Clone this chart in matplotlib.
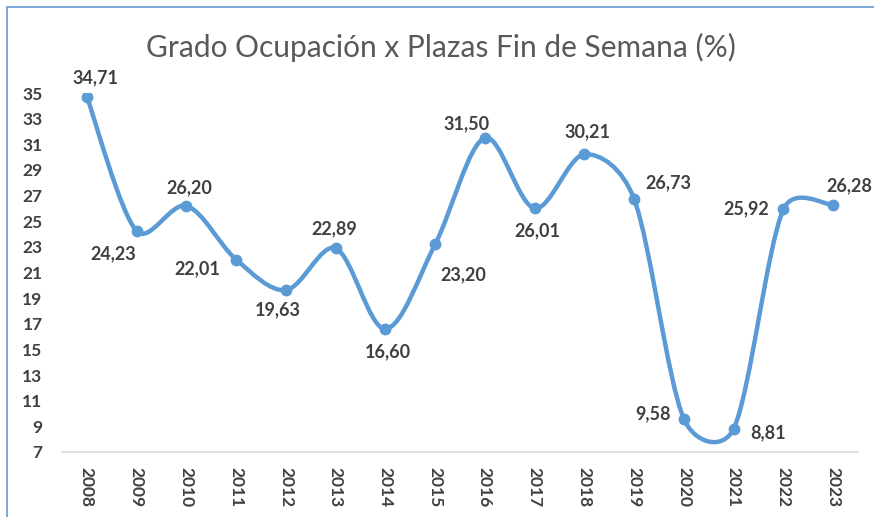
import numpy as np
import matplotlib
matplotlib.use('Agg')
import matplotlib.pyplot as plt
from matplotlib.path import Path
from matplotlib.patches import PathPatch, Rectangle

plt.rcParams['font.family'] = ['Lato', 'DejaVu Sans']

years = ['2008', '2009', '2010', '2011', '2012', '2013', '2014', '2015',
         '2016', '2017', '2018', '2019', '2020', '2021', '2022', '2023']
ocupacion = [34.71, 24.23, 26.20, 22.01, 19.63, 22.89, 16.60, 23.20,
             31.50, 26.01, 30.21, 26.73, 9.58, 8.81, 25.92, 26.28]
yticks = list(range(7, 36, 2))

# label offsets (points) around each point, like excel put them
offsets = [(6, 14), (-17, -16), (2, 13), (-28, -6.5), (-6, -14), (-1, 14),
           (2, -16.5), (20, -22), (-13, 10), (2, -16), (2, 16.5), (25, 11.5),
           (-22, 3.5), (24.5, -3), (-27, 0.5), (11.5, 13.5)]

blue = '#5B9BD5'
txt = '#404040'

fig = plt.figure(figsize=(8.74, 5.17), dpi=100)
ax = fig.add_axes([62 / 874, 1 - 452 / 517, (858 - 62) / 874, (452 - 93) / 517])
ax.set_xlim(-0.5, len(years) - 0.5)
ax.set_ylim(7, 35)

x = np.arange(len(years))
y = np.array(ocupacion)

# excel-like smoothed line: bezier segments computed in pixel space
pts = ax.transData.transform(np.column_stack([x, y]))
n = len(pts)
verts = [pts[0]]
codes = [Path.MOVETO]
for i in range(n - 1):
    p0 = pts[max(i - 1, 0)]
    p1 = pts[i]
    p2 = pts[i + 1]
    p3 = pts[min(i + 2, n - 1)]
    d01 = np.hypot(*(p1 - p0))
    d12 = np.hypot(*(p2 - p1))
    d23 = np.hypot(*(p3 - p2))
    f1 = min(1.0, 2 * np.sqrt(d12) / (np.sqrt(d01) + np.sqrt(d12)))
    f2 = min(1.0, 2 * np.sqrt(d12) / (np.sqrt(d23) + np.sqrt(d12)))
    c1 = p1 + (p2 - p0) / 6 * f1
    c2 = p2 - (p3 - p1) / 6 * f2
    verts += [c1, c2, p2]
    codes += [Path.CURVE4] * 3
verts = ax.transData.inverted().transform(np.array(verts))
ax.add_patch(PathPatch(Path(verts, codes), fill=False, ec=blue, lw=3.2,
                       capstyle='round', joinstyle='round'))
ax.plot(x, y, 'o', color=blue, ms=7.5, zorder=3)

for xi, yi, (dx, dy) in zip(x, y, offsets):
    ax.annotate(('%.2f' % yi).replace('.', ','), (xi, yi), xytext=(dx, dy),
                textcoords='offset points', ha='center', va='center',
                fontsize=13, fontweight='bold', color=txt, annotation_clip=False)

ax.set_xticks(x)
ax.set_xticklabels(years, rotation=-90, fontsize=12.5, fontweight='bold', color=txt)
ax.set_yticks(yticks)
ax.set_yticklabels([str(v) for v in yticks], fontsize=12.5, fontweight='bold', color=txt)
ax.tick_params(axis='both', length=0)
ax.tick_params(axis='y', pad=14)
ax.tick_params(axis='x', pad=11)
for s in ['top', 'right', 'left']:
    ax.spines[s].set_visible(False)
ax.spines['bottom'].set_color('#D9D9D9')
ax.spines['bottom'].set_linewidth(1.2)

fig.text(441 / 874, 1 - 47 / 517, 'Grado Ocupación x Plazas Fin de Semana (%)',
         ha='center', va='center', fontsize=21.5, color='#595959')

fig.patches.append(Rectangle((7 / 874, -0.1), 2, 1.1 - 7 / 517, transform=fig.transFigure,
                             fill=False, ec='#6FA3D9', lw=1.3))

fig.savefig('out.png', dpi=100, facecolor='white')
